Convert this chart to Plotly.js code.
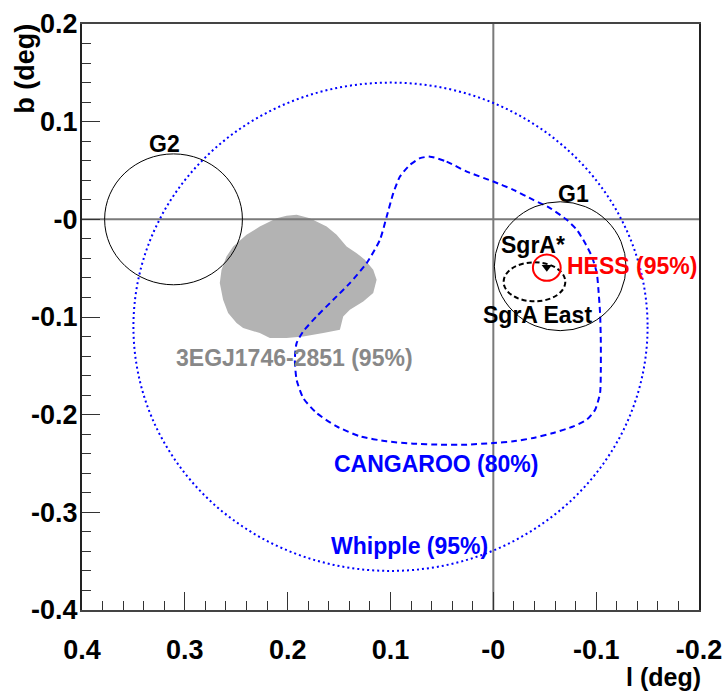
<!DOCTYPE html>
<html>
<head>
<meta charset="utf-8">
<script src="https://cdn.plot.ly/plotly-3.0.1.min.js"></script>
<style>html,body{margin:0;padding:0;background:#fff;}#plot{width:725px;height:693px;}</style>
</head>
<body>
<div id="plot"></div>
<script>
// Axis ranges and tick labels
const lRange = [0.4, -0.2];
const bRange = [-0.4, 0.2];
const lTickVals = [0.4, 0.3, 0.2, 0.1, 0, -0.1, -0.2];
const lTickText = ['0.4', '0.3', '0.2', '0.1', '-0', '-0.1', '-0.2'];
const bTickVals = [0.2, 0.1, 0, -0.1, -0.2, -0.3, -0.4];
const bTickText = ['0.2', '0.1', '-0', '-0.1', '-0.2', '-0.3', '-0.4'];

// CANGAROO (80%) contour
const cangarooL = [0.0616, 0.0454, 0.0259, 0.0, -0.0195, -0.0389, -0.0552, -0.0714, -0.0812, -0.0892, -0.0958, -0.1006, -0.1022, -0.1038, -0.1045, -0.1045, -0.1038, -0.0990, -0.0909, -0.0779, -0.0584, -0.0389, -0.0195, 0.0, 0.0259, 0.0519, 0.0779, 0.1037, 0.1297, 0.1524, 0.1719, 0.1849, 0.1913, 0.1930, 0.1913, 0.1849, 0.1719, 0.1557, 0.1395, 0.1232, 0.1103, 0.1037, 0.0973, 0.0908, 0.0811, 0.0713, 0.0616];
const cangarooB = [0.0642, 0.0591, 0.0489, 0.0387, 0.0302, 0.0199, 0.0115, -0.0005, -0.0107, -0.0243, -0.0381, -0.0550, -0.0721, -0.0960, -0.1233, -0.1573, -0.1778, -0.1949, -0.2051, -0.2120, -0.2187, -0.2238, -0.2273, -0.2290, -0.2307, -0.2307, -0.2297, -0.2273, -0.2222, -0.2120, -0.1983, -0.1829, -0.1642, -0.1437, -0.1267, -0.1148, -0.0994, -0.0824, -0.0653, -0.0448, -0.0210, 0.0029, 0.0268, 0.0438, 0.0558, 0.0626, 0.0642];

// 3EG J1746-2851 (95%) region
const egretL = [0.1913, 0.1784, 0.1621, 0.1524, 0.1427, 0.1329, 0.1249, 0.1168, 0.1135, 0.1168, 0.1265, 0.1395, 0.1460, 0.1492, 0.1654, 0.1849, 0.2011, 0.2173, 0.2271, 0.2433, 0.2497, 0.2579, 0.2628, 0.2660, 0.2643, 0.2595, 0.2530, 0.2400, 0.2271, 0.2108, 0.2011, 0.1913];
const egretB = [0.0046, 0.0012, -0.0074, -0.0159, -0.0278, -0.0346, -0.0414, -0.0517, -0.0619, -0.0755, -0.0841, -0.0926, -0.0994, -0.1130, -0.1164, -0.1199, -0.1215, -0.1215, -0.1164, -0.1113, -0.1062, -0.0960, -0.0824, -0.0653, -0.0517, -0.0381, -0.0278, -0.0159, -0.0074, 0.0012, 0.0036, 0.0046];

// Circles / ellipses: centre (l, b) and radii
const circleNames = ['Whipple', 'G2', 'G1', 'SgrA East', 'HESS'];
const circleL = [0.100, 0.311, -0.065, -0.040, -0.052];
const circleB = [-0.110, 0.000, -0.048, -0.064, -0.0495];
const circleRL = [0.250, 0.067, 0.064, 0.030, 0.0135];
const circleRB = [0.250, 0.067, 0.066, 0.020, 0.0135];

// SgrA* position
const sgrAStarL = [-0.052];
const sgrAStarB = [-0.049];

const circleStyles = {
  'Whipple':   {color: '#0000ff', width: 2, dash: '2px,3px'},
  'G2':        {color: '#000000', width: 1, dash: 'solid'},
  'G1':        {color: '#000000', width: 1, dash: 'solid'},
  'SgrA East': {color: '#000000', width: 2, dash: '5px,3px'},
  'HESS':      {color: '#ff0000', width: 2, dash: 'solid'}
};

const shapes = circleNames.map((n, i) => ({
  type: 'circle', xref: 'x', yref: 'y', layer: 'above',
  x0: circleL[i] - circleRL[i], x1: circleL[i] + circleRL[i],
  y0: circleB[i] - circleRB[i], y1: circleB[i] + circleRB[i],
  line: circleStyles[n]
}));

const traces = [
  {x: egretL, y: egretB, type: 'scatter', mode: 'lines', fill: 'toself',
   fillcolor: '#b3b3b3', line: {width: 0, color: '#b3b3b3'}, hoverinfo: 'skip'},
  {x: [0, 0], y: bRange, type: 'scatter', mode: 'lines',
   line: {color: '#7a7a7a', width: 2}, hoverinfo: 'skip'},
  {x: lRange, y: [0, 0], type: 'scatter', mode: 'lines',
   line: {color: '#7a7a7a', width: 2}, hoverinfo: 'skip'},
  {x: cangarooL, y: cangarooB, type: 'scatter', mode: 'lines',
   line: {color: '#0000ff', width: 2, dash: '6px,4px', shape: 'spline', smoothing: 0.6}, hoverinfo: 'skip'},
  {x: sgrAStarL, y: sgrAStarB, type: 'scatter', mode: 'markers',
   marker: {symbol: 'triangle-down', size: 9, color: '#000'}, hoverinfo: 'skip'}
];

const F = 'Liberation Sans, Arial, Helvetica, sans-serif';
function lab(text, x, y, color, xanchor) {
  return {text: text, x: x, y: y, xref: 'x', yref: 'y', showarrow: false,
    xanchor: xanchor || 'center', yanchor: 'middle',
    font: {family: F, size: 23, color: color, weight: 'bold'}};
}

const annotations = [
  lab('G2', 0.3195, 0.0772, '#000'),
  lab('G1', -0.0776, 0.0261, '#000'),
  lab('SgrA*', -0.0386, -0.0266, '#000'),
  lab('HESS (95%)', -0.0698, -0.0476, '#ff0000', 'left'),
  lab('SgrA East', -0.0430, -0.0982, '#000'),
  lab('3EGJ1746-2851 (95%)', 0.1930, -0.1417, '#888888'),
  lab('CANGAROO (80%)', 0.0558, -0.2501, '#0000ff'),
  lab('Whipple (95%)', 0.0816, -0.3340, '#0000ff'),
  {text: 'b (deg)', xref: 'paper', yref: 'paper', x: -0.0929, y: 0.923,
   xanchor: 'center', yanchor: 'middle', textangle: -90, showarrow: false,
   font: {family: F, size: 27, color: '#000', weight: 'bold'}},
  {text: 'l (deg)', xref: 'paper', yref: 'paper', x: 0.9425, y: -0.1145,
   xanchor: 'center', yanchor: 'middle', showarrow: false,
   font: {family: F, size: 25, color: '#000', weight: 'bold'}}
];

const layout = {
  width: 725, height: 693,
  margin: {l: 82, r: 26, t: 24, b: 83, pad: 0},
  paper_bgcolor: '#fff', plot_bgcolor: '#fff',
  showlegend: false,
  xaxis: {
    range: lRange, tickmode: 'array', tickvals: lTickVals, ticktext: lTickText,
    ticks: 'inside', ticklen: 18, tickwidth: 1, tickcolor: '#333',
    minor: {tickmode: 'linear', tick0: 0, dtick: 0.02, ticks: 'inside', ticklen: 9, tickwidth: 1, tickcolor: '#333'},
    showgrid: false, zeroline: false,
    showline: true, linecolor: '#444', linewidth: 2, mirror: true,
    ticklabelstandoff: 15,
    tickfont: {family: F, size: 27, color: '#000', weight: 'bold'}
  },
  yaxis: {
    range: bRange, tickmode: 'array', tickvals: bTickVals, ticktext: bTickText,
    ticks: 'inside', ticklen: 18, tickwidth: 1, tickcolor: '#333',
    minor: {tickmode: 'linear', tick0: 0, dtick: 0.02, ticks: 'inside', ticklen: 9, tickwidth: 1, tickcolor: '#333'},
    showgrid: false, zeroline: false,
    showline: true, linecolor: '#222', linewidth: 2, mirror: true,
    ticklabelstandoff: -3,
    tickfont: {family: F, size: 27, color: '#000', weight: 'bold'}
  },
  shapes: shapes,
  annotations: annotations
};

Plotly.newPlot('plot', traces, layout, {staticPlot: true, displayModeBar: false});
</script>
</body>
</html>
